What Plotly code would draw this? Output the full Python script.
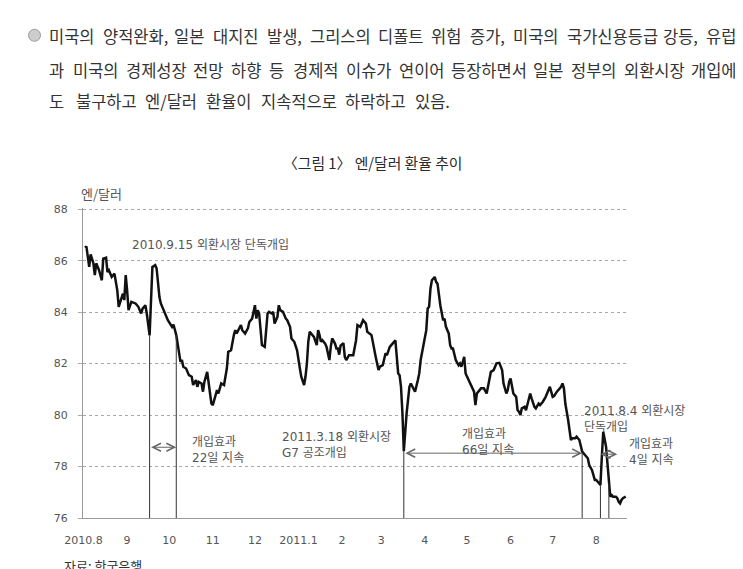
import plotly.graph_objects as go
import pandas as pd

# ---------------- data ----------------
dates = [
    "2010-08-02", "2010-08-03", "2010-08-05", "2010-08-06", "2010-08-08", "2010-08-09", "2010-08-10",
    "2010-08-12", "2010-08-14", "2010-08-15", "2010-08-17", "2010-08-18", "2010-08-19", "2010-08-21",
    "2010-08-23", "2010-08-24", "2010-08-25", "2010-08-26", "2010-08-28", "2010-08-29", "2010-08-30",
    "2010-08-31", "2010-09-01", "2010-09-02", "2010-09-04", "2010-09-06", "2010-09-07", "2010-09-09",
    "2010-09-11", "2010-09-12", "2010-09-14", "2010-09-15", "2010-09-17", "2010-09-19", "2010-09-21",
    "2010-09-22", "2010-09-24", "2010-09-25", "2010-09-26", "2010-09-28", "2010-09-30", "2010-10-03",
    "2010-10-04", "2010-10-06", "2010-10-07", "2010-10-09", "2010-10-10", "2010-10-11", "2010-10-13",
    "2010-10-15", "2010-10-17", "2010-10-18", "2010-10-20", "2010-10-21", "2010-10-22", "2010-10-24",
    "2010-10-25", "2010-10-26", "2010-10-28", "2010-10-29", "2010-10-30", "2010-10-31", "2010-11-01",
    "2010-11-02", "2010-11-04", "2010-11-05", "2010-11-07", "2010-11-09", "2010-11-11", "2010-11-12",
    "2010-11-14", "2010-11-16", "2010-11-17", "2010-11-18", "2010-11-20", "2010-11-21", "2010-11-22",
    "2010-11-24", "2010-11-26", "2010-11-27", "2010-11-29", "2010-11-30", "2010-12-01", "2010-12-02",
    "2010-12-03", "2010-12-04", "2010-12-05", "2010-12-06", "2010-12-08", "2010-12-09", "2010-12-10",
    "2010-12-11", "2010-12-13", "2010-12-14", "2010-12-15", "2010-12-17", "2010-12-18", "2010-12-19",
    "2010-12-21", "2010-12-23", "2010-12-24", "2010-12-26", "2010-12-27", "2010-12-29", "2010-12-31",
    "2011-01-02", "2011-01-03", "2011-01-05", "2011-01-06", "2011-01-07", "2011-01-08", "2011-01-09",
    "2011-01-10", "2011-01-12", "2011-01-14", "2011-01-15", "2011-01-16", "2011-01-17", "2011-01-18",
    "2011-01-20", "2011-01-21", "2011-01-23", "2011-01-24", "2011-01-25", "2011-01-27", "2011-01-28",
    "2011-01-29", "2011-01-30", "2011-01-31", "2011-02-02", "2011-02-03", "2011-02-04", "2011-02-06",
    "2011-02-09", "2011-02-11", "2011-02-12", "2011-02-14", "2011-02-16", "2011-02-18", "2011-02-19",
    "2011-02-22", "2011-02-23", "2011-02-25", "2011-02-27", "2011-02-28", "2011-03-02", "2011-03-04",
    "2011-03-05", "2011-03-07", "2011-03-09", "2011-03-11", "2011-03-12", "2011-03-13", "2011-03-14",
    "2011-03-15", "2011-03-16", "2011-03-17", "2011-03-19", "2011-03-21", "2011-03-22", "2011-03-24",
    "2011-03-25", "2011-03-27", "2011-03-28", "2011-03-29", "2011-03-31", "2011-04-02", "2011-04-03",
    "2011-04-04", "2011-04-05", "2011-04-06", "2011-04-08", "2011-04-09", "2011-04-10", "2011-04-11",
    "2011-04-12", "2011-04-14", "2011-04-15", "2011-04-16", "2011-04-18", "2011-04-19", "2011-04-20",
    "2011-04-21", "2011-04-22", "2011-04-23", "2011-04-25", "2011-04-26", "2011-04-27", "2011-04-28",
    "2011-04-29", "2011-04-30", "2011-05-01", "2011-05-03", "2011-05-04", "2011-05-06", "2011-05-07",
    "2011-05-08", "2011-05-11", "2011-05-13", "2011-05-15", "2011-05-17", "2011-05-18", "2011-05-20",
    "2011-05-22", "2011-05-24", "2011-05-26", "2011-05-27", "2011-05-29", "2011-05-30", "2011-05-31",
    "2011-06-01", "2011-06-02", "2011-06-03", "2011-06-05", "2011-06-06", "2011-06-07", "2011-06-08",
    "2011-06-09", "2011-06-11", "2011-06-12", "2011-06-14", "2011-06-15", "2011-06-16", "2011-06-18",
    "2011-06-19", "2011-06-21", "2011-06-22", "2011-06-24", "2011-06-26", "2011-06-27", "2011-06-29",
    "2011-07-01", "2011-07-02", "2011-07-04", "2011-07-05", "2011-07-07", "2011-07-08", "2011-07-09",
    "2011-07-10", "2011-07-11", "2011-07-12", "2011-07-14", "2011-07-15", "2011-07-17", "2011-07-18",
    "2011-07-20", "2011-07-21", "2011-07-22", "2011-07-24", "2011-07-26", "2011-07-27", "2011-07-29",
    "2011-07-31", "2011-08-01", "2011-08-03", "2011-08-04", "2011-08-05", "2011-08-06", "2011-08-08",
    "2011-08-09", "2011-08-10", "2011-08-11", "2011-08-12", "2011-08-13", "2011-08-15", "2011-08-16",
    "2011-08-17", "2011-08-18", "2011-08-19", "2011-08-20", "2011-08-22",
]

yen_per_dollar = [
    86.51, 86.56, 85.76, 86.25, 85.90, 85.44, 85.90,
    85.63, 85.24, 86.08, 86.12, 85.56, 85.63, 85.37,
    85.50, 85.11, 84.85, 84.21, 84.59, 84.72, 84.47,
    85.44, 84.85, 84.08, 84.40, 84.34, 84.34, 84.21,
    83.95, 84.14, 84.27, 83.95, 83.10, 85.76, 85.83,
    85.70, 84.59, 84.34, 84.21, 84.01, 83.69, 83.43,
    83.52, 83.11, 82.72, 82.07, 82.14, 81.88, 81.81,
    81.55, 81.49, 81.17, 81.36, 81.10, 81.29, 81.23,
    80.91, 81.29, 81.68, 81.29, 80.78, 80.45, 80.39,
    80.58, 80.97, 80.84, 81.23, 81.17, 81.81, 82.46,
    82.52, 83.11, 83.30, 83.17, 83.43, 83.50, 83.30,
    83.17, 83.37, 83.62, 83.75, 84.08, 84.27, 83.75,
    84.08, 83.95, 83.30, 82.72, 82.65, 83.30, 83.95,
    84.01, 83.95, 84.01, 83.56, 83.82, 84.27, 84.08,
    84.01, 83.75, 83.69, 83.43, 82.98, 82.85, 82.52,
    81.81, 81.49, 81.17, 81.49, 82.01, 82.85, 83.24,
    83.17, 83.04, 82.72, 83.30, 83.11, 82.85, 82.91,
    82.78, 82.65, 82.14, 82.65, 82.98, 82.78, 82.59,
    82.59, 82.35, 82.70, 82.80, 82.26, 82.14, 82.33,
    82.33, 82.91, 83.50, 83.43, 83.69, 83.56, 83.24,
    83.11, 82.78, 82.26, 81.75, 81.88, 81.94, 82.40,
    82.33, 82.65, 82.78, 82.91, 82.26, 81.62, 81.55,
    81.10, 80.10, 78.60, 80.07, 81.10, 81.23, 80.97,
    80.91, 81.36, 81.62, 82.14, 82.78, 83.30, 84.14,
    84.21, 84.92, 85.24, 85.37, 85.18, 85.11, 84.59,
    84.27, 83.69, 83.75, 83.43, 83.17, 82.72, 82.59,
    82.59, 82.33, 82.14, 81.94, 82.01, 81.88, 82.14,
    82.26, 81.62, 81.49, 81.23, 81.10, 80.91, 80.39,
    80.84, 81.04, 81.04, 80.84, 81.42, 81.68, 81.75,
    82.01, 82.03, 81.75, 81.23, 80.84, 80.97, 81.29,
    81.42, 81.10, 80.84, 80.71, 80.19, 80.13, 80.00,
    80.26, 80.32, 80.19, 80.58, 80.84, 80.65, 80.32,
    80.26, 80.45, 80.39, 80.52, 80.71, 80.84, 81.10,
    80.71, 80.74, 80.91, 80.97, 81.10, 81.23, 81.04,
    80.45, 80.19, 79.81, 79.03, 79.10, 79.10, 79.16,
    79.03, 78.77, 78.58, 78.45, 78.32, 78.06, 77.86,
    77.48, 77.48, 77.35, 77.28, 78.38, 79.35, 78.77,
    77.99, 77.35, 76.83, 76.89, 76.83, 76.83, 76.77,
    76.63, 76.57, 76.70, 76.77, 76.83,
]

tick_dates = ["2010-08-01", "2010-09-01", "2010-10-01", "2010-11-01", "2010-12-01",
              "2011-01-01", "2011-02-01", "2011-03-01", "2011-04-01", "2011-05-01",
              "2011-06-01", "2011-07-01", "2011-08-01"]
tick_labels = ["2010.8", "9", "10", "11", "12", "2011.1", "2", "3", "4", "5", "6", "7", "8"]

# dates where the vertical marker lines stand (interventions / end of effect)
marker_dates = ["2010-09-17", "2010-10-06", "2011-03-17", "2011-07-22", "2011-08-04", "2011-08-10"]

# effect-duration arrows
effect_starts = ["2010-09-17", "2011-03-17", "2011-08-03"]
effect_ends = ["2010-10-06", "2011-07-22", "2011-08-16"]
effect_levels = [78.75, 78.52, 78.48]

# notes: anchor date, level, lines
note_dates = ["2010-09-05", "2010-10-18", "2010-12-21", "2011-04-28", "2011-07-24", "2011-08-25"]
note_levels = [86.63, 78.65, 78.83, 78.96, 79.86, 78.57]
note_texts = [
    ["2010.9.15 외환시장 단독개입"],
    ["개입효과", "22일 지속"],
    ["2011.3.18 외환시장", "G7 공조개입"],
    ["개입효과", "66일 지속"],
    ["2011.8.4 외환시장", "단독개입"],
    ["개입효과", "4일 지속"],
]

paragraph = [
    "미국의 양적완화, 일본 대지진 발생, 그리스의 디폴트 위험 증가, 미국의 국가신용등급 강등, 유럽",
    "과 미국의 경제성장 전망 하향 등 경제적 이슈가 연이어 등장하면서 일본 정부의 외환시장 개입에",
    "도 불구하고 엔/달러 환율이 지속적으로 하락하고 있음.",
]
title_text = "〈그림 1〉 엔/달러 환율 추이"
unit_text = "엔/달러"
source_text = "자료: 한국은행"

# ---------------- layout geometry (reference page pixels) ----------------
OFF = 8                      # the page body margin of the browser
W, H = 743 - OFF, 569 - OFF
PLOT_L, PLOT_R, PLOT_T, PLOT_B = 83, 627, 208, 518
ML, MR = PLOT_L - OFF, W - (PLOT_R - OFF)
MT, MB = PLOT_T - OFF, H - (PLOT_B - OFF)
PW = PLOT_R - PLOT_L
PH = PLOT_B - PLOT_T
X_RANGE = ["2010-07-31 14:00", "2011-08-22 22:00"]
Y_RANGE = [76, 88.05]


def px(x):
    return (x - PLOT_L) / PW


def py(y):
    return (PLOT_B - y) / PH


def date_paper(d):
    t0, t1 = pd.Timestamp(X_RANGE[0]), pd.Timestamp(X_RANGE[1])
    return (pd.Timestamp(d) - t0) / (t1 - t0)


def value_paper(v):
    return (v - Y_RANGE[0]) / (Y_RANGE[1] - Y_RANGE[0])


CJK = "Noto Sans CJK KR"
MIX = "DejaVu Sans, Noto Sans CJK KR"

series = pd.Series(yen_per_dollar, index=pd.to_datetime(dates))


def value_at(d):
    i = series.index.get_indexer([pd.Timestamp(d)], method="nearest")[0]
    return float(series.iloc[i])


fig = go.Figure()
fig.add_trace(go.Scatter(
    x=dates, y=yen_per_dollar, mode="lines",
    line=dict(color="#111111", width=2.5),
    hoverinfo="skip", showlegend=False,
))

shapes = []
for d in marker_dates:
    shapes.append(dict(type="line", xref="x", yref="y", x0=d, x1=d, y0=76, y1=value_at(d),
                       line=dict(color="#333333", width=1), layer="above"))

# bullet
shapes.append(dict(type="circle", xref="paper", yref="paper",
                   x0=px(28.5), x1=px(40.5), y0=py(41.3), y1=py(29.3),
                   fillcolor="#cdcdcd", line=dict(color="#9c9c9c", width=1)))

annotations = []
for s, e, lv in zip(effect_starts, effect_ends, effect_levels):
    annotations.append(dict(
        x=e, y=lv, ax=s, ay=lv, xref="x", yref="y", axref="x", ayref="y",
        text="", showarrow=True, arrowhead=5, startarrowhead=5, arrowside="end+start",
        arrowsize=1.6, startarrowsize=1.6, arrowwidth=1, arrowcolor="#666666",
    ))

for d, lv, lines in zip(note_dates, note_levels, note_texts):
    annotations.append(dict(
        x=date_paper(d), y=value_paper(lv), xref="paper", yref="paper", text="<br>".join(lines),
        showarrow=False, xanchor="left", yanchor="middle", align="left", xshift=-1,
        borderpad=0, borderwidth=0,
        font=dict(family=MIX, size=12, color="#555555"),
    ))

# paragraph: words laid out on each line (spread to the reference line ends)
FS = 16.5


def char_w(c):
    if "\uac00" <= c <= "\ud7a3":
        return 0.87 * FS
    if c in ",.":
        return 0.22 * FS
    if c == "/":
        return 0.33 * FS
    return 0.55 * FS


line_left = 49
line_rights = [735, 734, 447]
line_ys = [35.5, 69.5, 100.5]
for text, right, yy in zip(paragraph, line_rights, line_ys):
    words = text.split(" ")
    widths = [sum(char_w(c) for c in w) for w in words]
    gap = (right - line_left - sum(widths)) / (len(words) - 1)
    xpos = line_left
    for w, wd in zip(words, widths):
        annotations.append(dict(
            x=px(xpos), y=py(yy), xref="paper", yref="paper", text=w,
            showarrow=False, xanchor="left", yanchor="middle",
            borderpad=0, borderwidth=0,
            font=dict(family=CJK, size=FS, color="#333333"),
        ))
        xpos += wd + gap

annotations.append(dict(x=px(372), y=py(162), xref="paper", yref="paper", text=title_text,
                        showarrow=False, xanchor="center", yanchor="middle",
                        font=dict(family=CJK, size=14.8, color="#2a2a2a")))
annotations.append(dict(x=px(81), y=py(193), xref="paper", yref="paper", text=unit_text,
                        showarrow=False, xanchor="left", yanchor="middle",
                        borderpad=0, borderwidth=0,
                        font=dict(family=CJK, size=13, color="#555555")))
annotations.append(dict(x=px(64), y=py(565), xref="paper", yref="paper", text=source_text,
                        showarrow=False, xanchor="left", yanchor="middle",
                        borderpad=0, borderwidth=0,
                        font=dict(family=CJK, size=13, color="#333333")))

fig.update_layout(
    width=W, height=H, autosize=False,
    margin=dict(l=ML, r=MR, t=MT, b=MB, pad=0),
    paper_bgcolor="white", plot_bgcolor="white",
    showlegend=False,
    shapes=shapes, annotations=annotations,
    xaxis=dict(
        type="date", range=X_RANGE,
        showgrid=False, zeroline=False, showline=True, linecolor="#999999", linewidth=1,
        tickvals=tick_dates, ticktext=tick_labels, ticks="", ticklabelstandoff=12,
        tickfont=dict(family=MIX, size=11, color="#555555"),
    ),
    yaxis=dict(
        range=Y_RANGE, tick0=76, dtick=2,
        showgrid=True, gridcolor="#a8a8a8", griddash="dot", gridwidth=1,
        zeroline=False, showline=True, linecolor="#999999", linewidth=1,
        ticks="outside", ticklen=4, tickcolor="#aaaaaa", ticklabelstandoff=8,
        tickfont=dict(family=MIX, size=11, color="#555555"),
    ),
)

fig.write_html("out.html")
